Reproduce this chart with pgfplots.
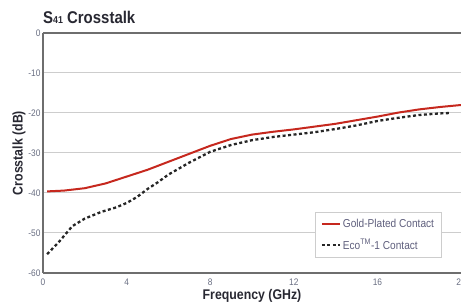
\documentclass[border=0pt]{standalone}
\usepackage{pgfplots}
\pgfplotsset{compat=1.18}
\usepackage{fontspec}
\setmainfont{Liberation Sans}[FakeStretch=0.88]
\definecolor{goldred}{RGB}{198,40,30}
\definecolor{ticktxt}{RGB}{105,110,130}
\definecolor{legtxt}{RGB}{95,95,125}
\definecolor{gridc}{RGB}{205,205,205}
\definecolor{axc}{RGB}{110,110,110}
\definecolor{labc}{RGB}{40,40,50}
\begin{document}
\begin{tikzpicture}[x=1pt,y=1pt]
\begin{axis}[
  at={(43pt,34pt)}, anchor=south west,
  scale only axis, width=418pt, height=240pt,
  xmin=0, xmax=20, ymin=-60, ymax=0,
  xtick={0,4,8,12,16,20}, ytick={0,-10,-20,-30,-40,-50,-60},
  axis line style={draw=none},
  ymajorgrids, grid style={gridc, line width=1pt},
  major tick length=0pt,
  tick label style={font=\fontsize{9.5}{10}\selectfont, text=ticktxt},
  /pgf/number format/assume math mode=true,
  xticklabel style={yshift=-2pt},
  yticklabel style={xshift=1pt},
  xlabel={\textbf{Frequency (GHz)}},
  ylabel={\textbf{Crosstalk (dB)}},
  label style={font=\fontsize{14}{15}\selectfont, text=labc},
  xlabel style={yshift=3pt},
  ylabel style={yshift=-4pt},
  clip=false,
  legend style={at={(axis description cs:0.651,0.255)}, anchor=north west, draw=gridc, line width=1pt,
    font=\fontsize{11.5}{13}\selectfont, text=legtxt, row sep=6pt,
    inner xsep=5pt, inner ysep=5pt},
  legend cell align=left,
  legend image code/.code={\draw[#1] (0pt,0pt) -- (18pt,0pt);},
]
\addplot[goldred, line width=2pt] coordinates {
(0.2,-39.6) (1,-39.4) (2,-38.8) (3,-37.6) (4,-35.9) (5,-34.2) (6,-32.2)
(7,-30.2) (8,-28.2) (9,-26.5) (10,-25.4) (11,-24.7) (12,-24.1) (13,-23.4)
(14,-22.7) (15,-21.8) (16,-20.9) (17,-19.9) (18,-19.1) (19,-18.5) (20,-18.0)};
\addlegendentry{Gold-Plated Contact}
\addplot[black!85, line width=2.3pt, dash pattern=on 3pt off 2.5pt] coordinates {
(0.2,-55.3) (0.8,-52) (1.4,-48.3) (2,-46.4) (2.8,-44.7) (3.5,-43.6) (4,-42.5)
(4.5,-41) (5,-39) (5.5,-37.3) (6,-35.4) (7,-32.4) (8,-29.7) (9,-28.0)
(10,-26.8) (11,-26.0) (12,-25.4) (13,-24.8) (14,-24.0) (15,-23.1) (16,-22.0)
(17,-21.2) (18,-20.5) (19,-20.1) (19.5,-20.0)};
\addlegendentry{Eco\textsuperscript{TM}-1 Contact}
\draw[axc, line width=1.2pt] (axis cs:0,0) -- (axis cs:20,0);
\draw[axc, line width=1.2pt] (axis cs:0,-60) -- (axis cs:20,-60);
\draw[axc, line width=1.2pt] (axis cs:0,0) -- (axis cs:0,-60);
\end{axis}
\node[anchor=base west, font=\fontsize{17}{18}\selectfont\bfseries, text=labc, inner sep=0pt]
  at (43pt,283pt) {S\raisebox{0pt}{\fontsize{10}{11}\selectfont 41} Crosstalk};
\pgfresetboundingbox
\useasboundingbox (0,0) rectangle (461pt,307pt);
\end{tikzpicture}
\end{document}
